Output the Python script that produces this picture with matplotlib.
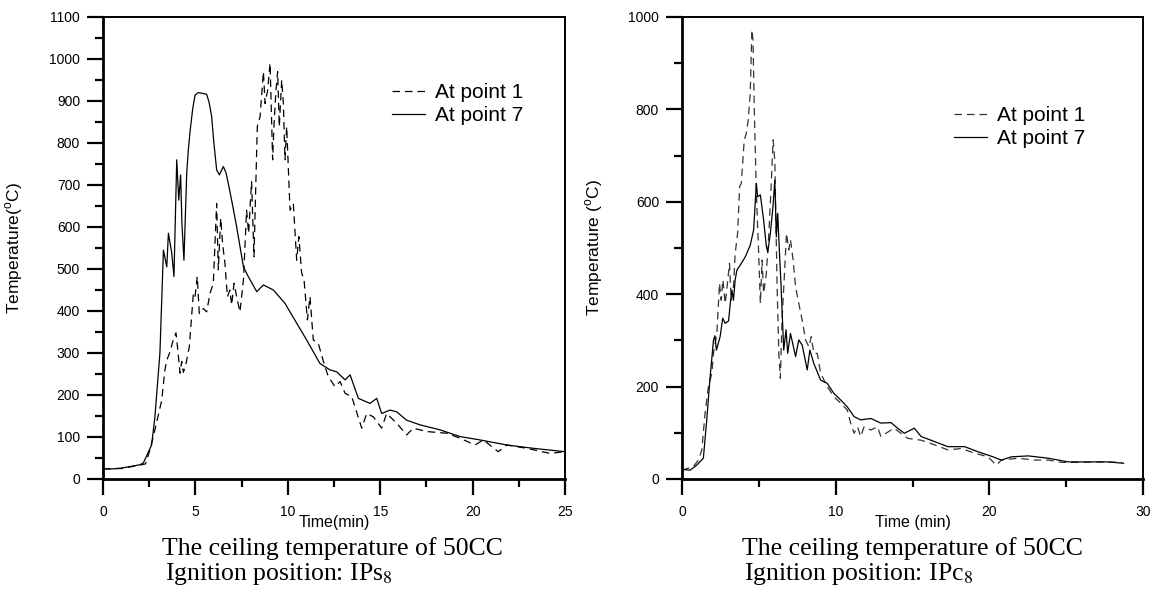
import matplotlib
matplotlib.use("Agg")
import matplotlib.pyplot as plt
from matplotlib.lines import Line2D
from matplotlib.ticker import MultipleLocator

plt.rcParams["font.family"] = ["Liberation Sans", "DejaVu Sans"]
plt.rcParams["mathtext.fontset"] = "custom"
plt.rcParams["mathtext.rm"] = "Liberation Sans"

# Left panel (ignition position IPs8): time (min) and temperature (C)
left_p1_t = [0, 1.0, 2.0, 2.3, 2.54, 2.81, 3.18, 3.35, 3.45, 3.63, 3.8, 3.95, 4.03, 4.17, 4.26,
             4.35, 4.49, 4.67, 4.89, 4.98, 5.1, 5.21, 5.43, 5.61, 5.79, 5.97, 6.15, 6.24, 6.37, 6.47,
             6.6, 6.73, 6.87, 6.96, 7.09, 7.23, 7.41, 7.6, 7.77, 7.88, 8.04, 8.17, 8.28, 8.35, 8.5,
             8.68, 8.77, 8.91, 9.04, 9.18, 9.25, 9.36, 9.45, 9.54, 9.67, 9.76, 9.85, 9.94, 10.12, 10.3,
             10.48, 10.6, 10.75, 10.88, 11.06, 11.2, 11.38, 11.65, 11.96, 12.19, 12.55, 12.83, 13.1,
             13.46, 14.0, 14.27, 14.63, 15.08, 15.35, 15.89, 16.43, 16.79, 17.51, 18.6, 19.32, 20.13,
             20.58, 21.39, 21.85, 22.93, 24.19, 25.0]
left_p1_T = [24, 25, 33, 36, 69, 117, 188, 260, 283, 303, 331, 348, 315, 252, 280,
             254, 274, 315, 442, 434, 482, 394, 406, 398, 442, 466, 656, 498, 621, 561,
             513, 434, 450, 414, 466, 434, 398, 474, 640, 585, 708, 529, 720, 839, 863,
             970, 894, 926, 990, 760, 839, 926, 970, 839, 950, 894, 760, 839, 640, 656,
             521, 577, 490, 474, 379, 434, 331, 323, 275, 244, 220, 232, 204,
             196, 121, 156, 148, 121, 156, 133, 105, 121, 113, 109, 97, 81,
             93, 65, 81, 73, 61, 65]
left_p7_t = [0, 0.5, 1.0, 1.5, 2.0, 2.18, 2.63, 2.81, 3.08, 3.27, 3.45, 3.54, 3.72, 3.84, 3.99,
             4.1, 4.2, 4.27, 4.38, 4.53, 4.62, 4.71, 4.85, 4.98, 5.16, 5.4, 5.61, 5.75, 5.88, 6.0,
             6.15, 6.3, 6.51, 6.65, 6.78, 7.0, 7.23, 7.6, 7.86, 8.32, 8.68, 9.22, 9.85, 10.48, 11.02,
             11.74, 12.28, 12.65, 13.1, 13.37, 13.82, 14.45, 14.81, 15.08, 15.53, 15.89, 16.43, 17.15,
             18.24, 19.32, 20.4, 21.85, 23.3, 25.0]
left_p7_T = [24, 24, 26, 30, 34, 38, 81, 148, 300, 545, 505, 585, 538, 482, 760,
             664, 724, 609, 521, 728, 785, 827, 880, 914, 920, 918, 916, 895, 863, 800,
             736, 724, 744, 730, 704, 655, 601, 505, 482, 446, 462, 450, 418, 371, 331,
             275, 260, 255, 236, 248, 192, 180, 192, 156, 164, 160, 140, 129,
             117, 101, 93, 81, 73, 65]

# Right panel (ignition position IPc8)
right_p1_t = [0, 0.74, 1.07, 1.29, 1.5, 1.72, 1.94, 2.05, 2.27, 2.44, 2.55, 2.66, 2.81, 2.96, 3.09,
              3.2, 3.35, 3.46, 3.62, 3.75, 3.86, 4.05, 4.18, 4.31, 4.44, 4.55, 4.62, 4.71, 4.84, 4.99,
              5.1, 5.21, 5.31, 5.49, 5.64, 5.8, 5.93, 6.04, 6.19, 6.3, 6.4, 6.51, 6.67, 6.8, 6.95,
              7.06, 7.23, 7.39, 7.6, 7.82, 8.04, 8.26, 8.41, 8.58, 8.8, 9.02, 9.45, 9.89, 10.33, 10.76,
              10.98, 11.2, 11.42, 11.63, 11.85, 12.29, 12.72, 12.94, 13.8, 14.69, 15.56, 16.43, 17.3,
              18.17, 19.04, 19.91, 20.46, 20.78, 21.87, 22.96, 23.83, 24.7, 25.79, 26.88, 28.63]
right_p1_T = [19, 27, 41, 63, 142, 200, 229, 272, 315, 424, 387, 431, 380, 424, 467,
              387, 416, 488, 532, 633, 640, 734, 748, 777, 835, 972, 950, 792, 618, 488,
              380, 474, 402, 445, 524, 633, 734, 690, 416, 272, 218, 344, 445, 532, 496,
              518, 474, 416, 380, 344, 301, 286, 308, 272, 272, 229, 200, 178, 164, 149,
              120, 99, 113, 92, 113, 106, 113, 92, 110, 88, 84, 74, 63,
              66, 56, 48, 30, 41, 45, 41, 41, 36, 36, 37, 36]
right_p7_t = [0, 0.52, 0.96, 1.39, 1.61, 1.83, 2.05, 2.14, 2.24, 2.48, 2.65, 2.81, 3.03, 3.14, 3.25,
              3.35, 3.46, 3.57, 3.79, 4.12, 4.44, 4.66, 4.84, 4.92, 5.1, 5.31, 5.49, 5.58, 5.75, 5.92,
              6.04, 6.14, 6.23, 6.34, 6.45, 6.62, 6.77, 6.88, 7.06, 7.39, 7.6, 7.82, 8.15, 8.32, 8.58,
              9.02, 9.45, 9.89, 10.33, 10.76, 11.2, 11.63, 12.29, 12.94, 13.6, 14.03, 14.47, 15.12,
              15.56, 16.43, 17.3, 18.39, 19.26, 20.24, 20.78, 21.44, 22.53, 23.83, 25.14, 26.88,
              27.75, 28.74]
right_p7_T = [21, 19, 30, 45, 128, 221, 301, 310, 279, 308, 348, 337, 342, 380, 409,
              387, 431, 452, 463, 481, 506, 539, 640, 611, 615, 561, 503, 491, 532, 589,
              647, 524, 575, 491, 416, 279, 323, 272, 315, 265, 301, 290, 236, 279, 250,
              214, 207, 185, 171, 156, 135, 128, 131, 121, 122, 110, 99, 110,
              92, 81, 70, 70, 59, 48, 41, 48, 50, 45, 37, 37,
              37, 34]

series_labels = ["At point 1", "At point 7"]
captions = ["Ignition position: IPs$_{8}$", "Ignition position: IPc$_{8}$"]
caption_title = "The ceiling temperature of 50CC"

W, H = 1157, 594
fig = plt.figure(figsize=(W / 100, H / 100), dpi=100)


def px_axes(x0, y0, x1, y1):
    return fig.add_axes([x0 / W, 1 - y1 / H, (x1 - x0) / W, (y1 - y0) / H])


panels = [
    dict(box=(103, 17, 565, 479), p1=(left_p1_t, left_p1_T), p7=(left_p7_t, left_p7_T),
         xlim=(0, 25), xmaj=5, xmin=2.5, ylim=(0, 1100), ymaj=100, ymin=50,
         xlabel="Time(min)", ylabel="Temperature($^{\\rm o}$C)", dash="black",
         leg=(392, 104), cap=(162, 165), capline=captions[0]),
    dict(box=(682, 17, 1143, 479), p1=(right_p1_t, right_p1_T), p7=(right_p7_t, right_p7_T),
         xlim=(0, 30), xmaj=10, xmin=5, ylim=(0, 1000), ymaj=200, ymin=100,
         xlabel="Time (min)", ylabel="Temperature ($^{\\rm o}$C)", dash="#333333",
         leg=(954, 127), cap=(742, 744), capline=captions[1]),
]

for p in panels:
    ax = px_axes(*p["box"])
    ax.plot(*p["p1"], color=p["dash"], lw=0.9, dashes=(6, 4))
    ax.plot(*p["p7"], color="black", lw=0.9)
    ax.set_xlim(*p["xlim"])
    ax.set_ylim(*p["ylim"])
    ax.xaxis.set_major_locator(MultipleLocator(p["xmaj"]))
    ax.xaxis.set_minor_locator(MultipleLocator(p["xmin"]))
    ax.yaxis.set_major_locator(MultipleLocator(p["ymaj"]))
    ax.yaxis.set_minor_locator(MultipleLocator(p["ymin"]))
    ax.tick_params(which="both", direction="out", width=1.6, top=False, right=False)
    ax.tick_params(which="major", length=11.5, labelsize=10)
    ax.tick_params(which="minor", length=5.5)
    ax.tick_params(axis="x", which="major", pad=7)
    ax.tick_params(axis="y", which="major", pad=5)
    for side in ("left", "bottom"):
        ax.spines[side].set_linewidth(2.0)
    for side in ("top", "right"):
        ax.spines[side].set_linewidth(1.4)

    ax.set_xlabel(p["xlabel"], fontsize=11.5)
    ax.xaxis.set_label_coords(0.5, -0.079)
    ax.set_ylabel(p["ylabel"], fontsize=12.5)
    ax.yaxis.set_label_coords(-0.168, 0.5)

    handles = [Line2D([], [], color=p["dash"], lw=0.9, dashes=(6, 4)),
               Line2D([], [], color="black", lw=0.9)]
    lx, ly = p["leg"]
    ax.legend(handles, series_labels, loc="center left",
              bbox_to_anchor=(lx / W, 1 - ly / H), bbox_transform=fig.transFigure,
              frameon=False, borderpad=0, borderaxespad=0, handlelength=1.6,
              handletextpad=0.45, labelspacing=0.2, fontsize=15)

    c1, c2 = p["cap"]
    fig.text(c1 / W, 1 - 549 / H, caption_title, family="Liberation Serif",
             fontsize=18.5, va="center", ha="left")
    fig.text(c2 / W, 1 - 574 / H, p["capline"], family="Liberation Serif",
             fontsize=18.5, va="center", ha="left", math_fontfamily="stix")

fig.savefig("out.png", dpi=100)
